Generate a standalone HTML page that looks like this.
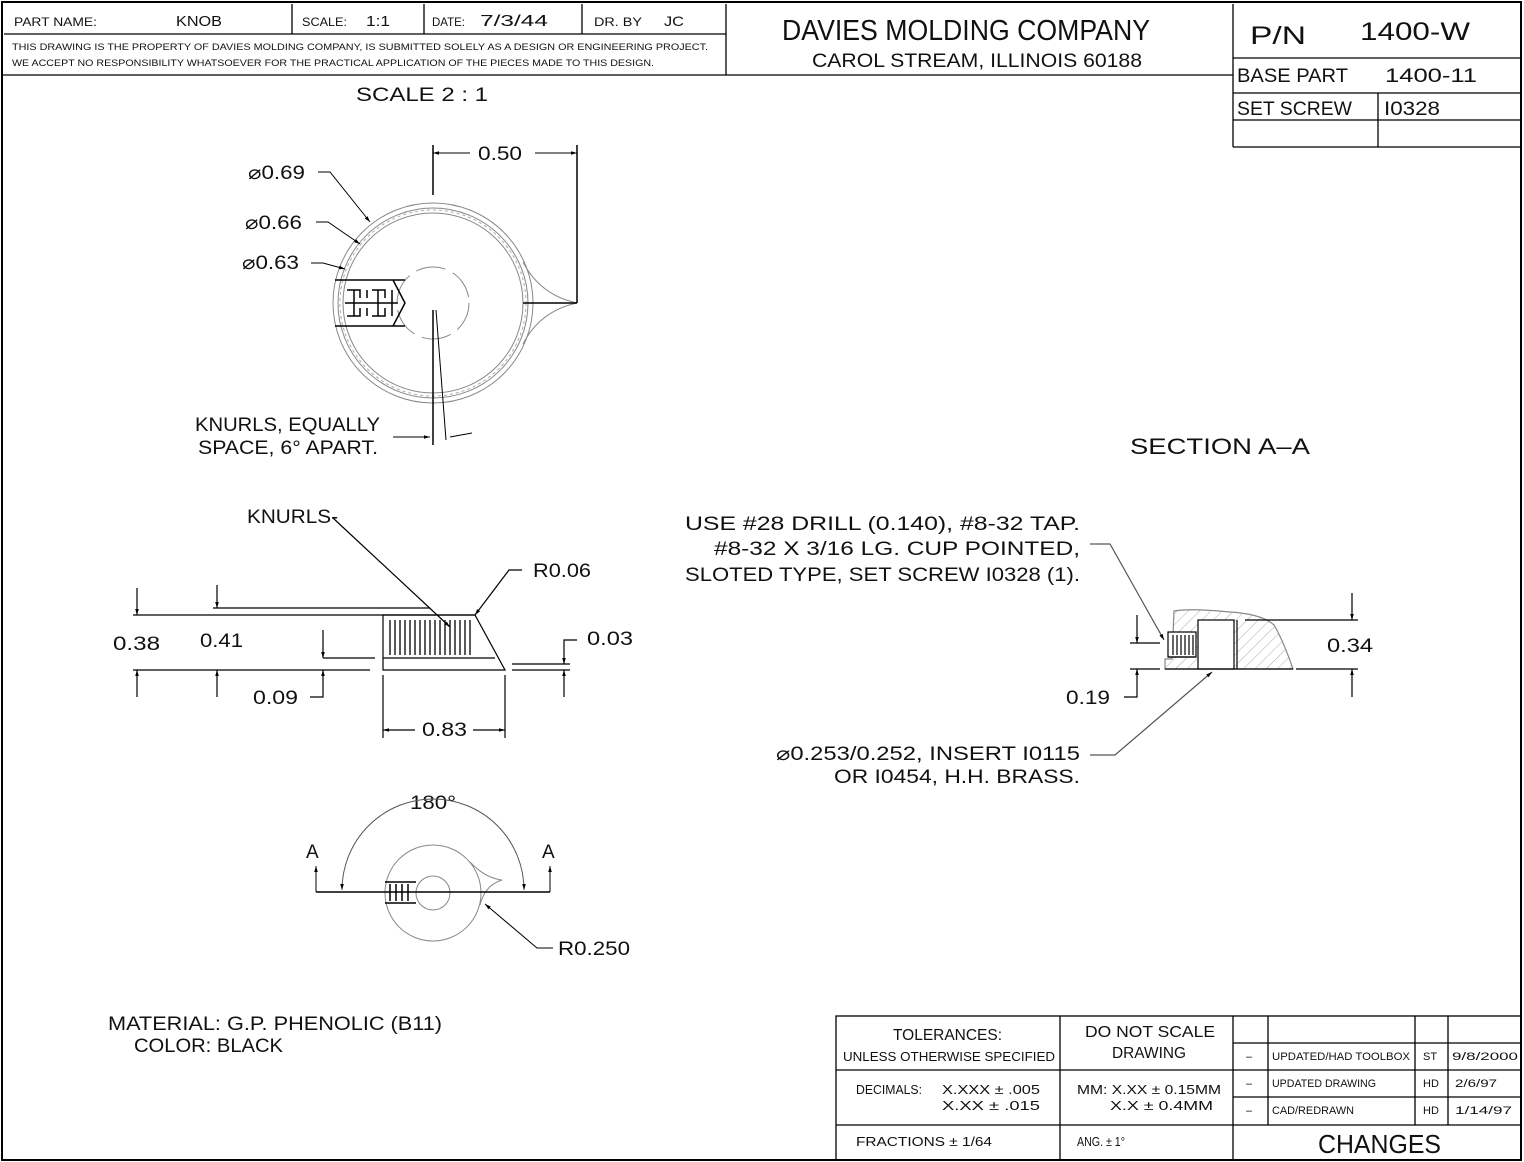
<!DOCTYPE html>
<html><head><meta charset="utf-8"><style>
html,body{margin:0;padding:0;background:#fff}
svg{display:block}
text{font-family:"Liberation Sans",sans-serif;fill:#111;font-weight:300}
</style></head><body>
<svg width="1524" height="1162" viewBox="0 0 1524 1162" xmlns="http://www.w3.org/2000/svg">
<defs>
<marker id="a" viewBox="0 0 10 10" refX="10" refY="5" markerWidth="10" markerHeight="6" orient="auto-start-reverse" markerUnits="userSpaceOnUse"><path d="M0,2 L10,5 L0,8z" fill="#000"/></marker>
<pattern id="h" width="8" height="8" patternUnits="userSpaceOnUse" patternTransform="rotate(45)"><line x1="0" y1="0" x2="0" y2="8" stroke="#999" stroke-width="0.8"/></pattern>
</defs>
<g fill="none" stroke="#000" stroke-width="2">
<rect x="2" y="2" width="1519" height="1158"/>
</g>
<g fill="none" stroke="#000" stroke-width="1.3">
<line x1="3" y1="75" x2="1233" y2="75"/>
<line x1="4" y1="34" x2="726" y2="34"/>
<line x1="292" y1="4" x2="292" y2="34"/>
<line x1="424" y1="4" x2="424" y2="34"/>
<line x1="582" y1="4" x2="582" y2="34"/>
<line x1="726" y1="4" x2="726" y2="75"/>
<line x1="1233" y1="4" x2="1233" y2="147"/>
<line x1="1233" y1="58" x2="1521" y2="58"/>
<line x1="1233" y1="93" x2="1521" y2="93"/>
<line x1="1233" y1="120" x2="1521" y2="120"/>
<line x1="1233" y1="147" x2="1521" y2="147"/>
<line x1="1378" y1="93" x2="1378" y2="147"/>
<rect x="836" y="1016" width="685" height="144"/>
<line x1="1060" y1="1016" x2="1060" y2="1160"/>
<line x1="1233" y1="1016" x2="1233" y2="1160"/>
<line x1="836" y1="1070" x2="1233" y2="1070"/>
<line x1="836" y1="1125" x2="1521" y2="1125"/>
<line x1="1233" y1="1043" x2="1521" y2="1043"/>
<line x1="1233" y1="1070" x2="1521" y2="1070"/>
<line x1="1233" y1="1097" x2="1521" y2="1097"/>
<line x1="1268" y1="1016" x2="1268" y2="1125"/>
<line x1="1415" y1="1016" x2="1415" y2="1125"/>
<line x1="1448" y1="1016" x2="1448" y2="1125"/>
</g>
<g font-size="12" lengthAdjust="spacingAndGlyphs">
<text x="14" y="26" textLength="83" lengthAdjust="spacingAndGlyphs">PART NAME:</text>
<text x="176" y="26" font-size="15" textLength="46" lengthAdjust="spacingAndGlyphs">KNOB</text>
<text x="302" y="26" textLength="45" lengthAdjust="spacingAndGlyphs">SCALE:</text><text x="366" y="26" font-size="15" textLength="24" lengthAdjust="spacingAndGlyphs">1:1</text>
<text x="432" y="26" textLength="33" lengthAdjust="spacingAndGlyphs">DATE:</text><text x="480" y="26" font-size="16" textLength="68" lengthAdjust="spacingAndGlyphs">7/3/44</text>
<text x="594" y="26" textLength="48" lengthAdjust="spacingAndGlyphs">DR. BY</text><text x="664" y="26" font-size="14" textLength="20" lengthAdjust="spacingAndGlyphs">JC</text>
<text x="12" y="50" font-size="9.5" textLength="696" lengthAdjust="spacingAndGlyphs">THIS DRAWING IS THE PROPERTY OF DAVIES MOLDING COMPANY, IS SUBMITTED SOLELY AS A DESIGN OR ENGINEERING PROJECT.</text>
<text x="12" y="66" font-size="9.5" textLength="642" lengthAdjust="spacingAndGlyphs">WE ACCEPT NO RESPONSIBILITY WHATSOEVER FOR THE PRACTICAL APPLICATION OF THE PIECES MADE TO THIS DESIGN.</text>
</g>
<text x="782" y="40" font-size="29" textLength="368" lengthAdjust="spacingAndGlyphs">DAVIES MOLDING COMPANY</text>
<text x="812" y="67" font-size="19" textLength="330" lengthAdjust="spacingAndGlyphs">CAROL STREAM, ILLINOIS 60188</text>
<text x="1250" y="44" font-size="25" textLength="56" lengthAdjust="spacingAndGlyphs">P/N</text>
<text x="1360" y="40" font-size="25" textLength="110" lengthAdjust="spacingAndGlyphs">1400-W</text>
<text x="1237" y="82" font-size="19" textLength="111" lengthAdjust="spacingAndGlyphs">BASE PART</text>
<text x="1385" y="82" font-size="19" textLength="92" lengthAdjust="spacingAndGlyphs">1400-11</text>
<text x="1237" y="115" font-size="19" textLength="115" lengthAdjust="spacingAndGlyphs">SET SCREW</text>
<text x="1384" y="115" font-size="19" textLength="56" lengthAdjust="spacingAndGlyphs">I0328</text>
<text x="893" y="1040" font-size="16" textLength="109" lengthAdjust="spacingAndGlyphs">TOLERANCES:</text>
<text x="843" y="1061" font-size="12.5" textLength="212" lengthAdjust="spacingAndGlyphs">UNLESS OTHERWISE SPECIFIED</text>
<text x="1085" y="1037" font-size="16" textLength="130" lengthAdjust="spacingAndGlyphs">DO NOT SCALE</text>
<text x="1112" y="1058" font-size="16" textLength="74" lengthAdjust="spacingAndGlyphs">DRAWING</text>
<text x="856" y="1094" font-size="12.5" textLength="66" lengthAdjust="spacingAndGlyphs">DECIMALS:</text>
<text x="942" y="1094" font-size="12.5" textLength="98" lengthAdjust="spacingAndGlyphs">X.XXX  ±  .005</text>
<text x="942" y="1110" font-size="12.5" textLength="98" lengthAdjust="spacingAndGlyphs">X.XX     ±  .015</text>
<text x="1077" y="1094" font-size="12.5" textLength="144" lengthAdjust="spacingAndGlyphs">MM: X.XX  ±  0.15MM</text>
<text x="1110" y="1110" font-size="12.5" textLength="103" lengthAdjust="spacingAndGlyphs">X.X    ±  0.4MM</text>
<text x="856" y="1146" font-size="12.5" textLength="136" lengthAdjust="spacingAndGlyphs">FRACTIONS  ±  1/64</text>
<text x="1077" y="1146" font-size="12.5" textLength="48" lengthAdjust="spacingAndGlyphs">ANG.  ±  1°</text>
<text x="1318" y="1153" font-size="26" textLength="123" lengthAdjust="spacingAndGlyphs">CHANGES</text>
<g font-size="11">
<text x="1246" y="1060">–</text><text x="1272" y="1060" textLength="138" lengthAdjust="spacingAndGlyphs">UPDATED/HAD TOOLBOX</text><text x="1423" y="1060">ST</text><text x="1452" y="1060" textLength="66" lengthAdjust="spacingAndGlyphs">9/8/2000</text>
<text x="1246" y="1087">–</text><text x="1272" y="1087" textLength="104" lengthAdjust="spacingAndGlyphs">UPDATED DRAWING</text><text x="1423" y="1087">HD</text><text x="1455" y="1087" textLength="42" lengthAdjust="spacingAndGlyphs">2/6/97</text>
<text x="1246" y="1114">–</text><text x="1272" y="1114" textLength="82" lengthAdjust="spacingAndGlyphs">CAD/REDRAWN</text><text x="1423" y="1114">HD</text><text x="1455" y="1114" textLength="57" lengthAdjust="spacingAndGlyphs">1/14/97</text>
</g>

<g font-size="19">
<text x="356" y="101" textLength="132" lengthAdjust="spacingAndGlyphs">SCALE  2  :  1</text>
<text x="478" y="160" textLength="44" lengthAdjust="spacingAndGlyphs">0.50</text>
<text x="248" y="179" textLength="57" lengthAdjust="spacingAndGlyphs">⌀0.69</text>
<text x="245" y="229" textLength="57" lengthAdjust="spacingAndGlyphs">⌀0.66</text>
<text x="242" y="269" textLength="57" lengthAdjust="spacingAndGlyphs">⌀0.63</text>
<text x="195" y="431" textLength="185" lengthAdjust="spacingAndGlyphs">KNURLS, EQUALLY</text>
<text x="198" y="454" textLength="180" lengthAdjust="spacingAndGlyphs">SPACE, 6° APART.</text>
<text x="1130" y="454" font-size="22" textLength="180" lengthAdjust="spacingAndGlyphs">SECTION  A–A</text>
<text x="247" y="523" textLength="91" lengthAdjust="spacingAndGlyphs">KNURLS-</text>
<text x="533" y="577" textLength="58" lengthAdjust="spacingAndGlyphs">R0.06</text>
<text x="113" y="650" textLength="47" lengthAdjust="spacingAndGlyphs">0.38</text>
<text x="200" y="647" textLength="43" lengthAdjust="spacingAndGlyphs">0.41</text>
<text x="587" y="645" textLength="46" lengthAdjust="spacingAndGlyphs">0.03</text>
<text x="253" y="704" textLength="45" lengthAdjust="spacingAndGlyphs">0.09</text>
<text x="422" y="736" textLength="45" lengthAdjust="spacingAndGlyphs">0.83</text>
<text x="685" y="530" textLength="395" lengthAdjust="spacingAndGlyphs">USE #28 DRILL (0.140), #8-32 TAP.</text>
<text x="714" y="555" textLength="366" lengthAdjust="spacingAndGlyphs">#8-32 X 3/16 LG. CUP POINTED,</text>
<text x="685" y="581" textLength="395" lengthAdjust="spacingAndGlyphs">SLOTED TYPE, SET SCREW I0328 (1).</text>
<text x="1327" y="652" textLength="46" lengthAdjust="spacingAndGlyphs">0.34</text>
<text x="1066" y="704" textLength="44" lengthAdjust="spacingAndGlyphs">0.19</text>
<text x="776" y="760" textLength="304" lengthAdjust="spacingAndGlyphs">⌀0.253/0.252, INSERT I0115</text>
<text x="834" y="783" textLength="246" lengthAdjust="spacingAndGlyphs">OR I0454, H.H. BRASS.</text>
<text x="410" y="809" textLength="46" lengthAdjust="spacingAndGlyphs">180°</text>
<text x="306" y="858">A</text>
<text x="542" y="858">A</text>
<text x="558" y="955" textLength="72" lengthAdjust="spacingAndGlyphs">R0.250</text>
<text x="108" y="1030" textLength="334" lengthAdjust="spacingAndGlyphs">MATERIAL: G.P. PHENOLIC (B11)</text>
<text x="134" y="1052" textLength="149" lengthAdjust="spacingAndGlyphs">COLOR: BLACK</text>
</g>

<g fill="none" stroke="#000" stroke-width="1">
<circle cx="433" cy="303" r="100" stroke="#888"/>
<circle cx="433" cy="303" r="95" stroke="#888"/>
<circle cx="433" cy="303" r="90" stroke="#888"/>
<circle cx="433" cy="303" r="93" stroke="#aaa" stroke-dasharray="3 3"/>
<circle cx="433" cy="303" r="36" stroke="#888" stroke-dasharray="30 8"/>
<path d="M523,262 Q540,295 577,303 Q540,311 523,344" stroke="#888"/>
<line x1="523" y1="303" x2="577" y2="303" stroke-width="1.5"/>
<line x1="433" y1="145" x2="433" y2="195" stroke-width="1.5"/>
<line x1="577" y1="145" x2="577" y2="303" stroke-width="1.5"/>
<line x1="433" y1="153" x2="470" y2="153" marker-start="url(#a)"/>
<line x1="535" y1="153" x2="577" y2="153" marker-end="url(#a)"/>
<line x1="433" y1="310" x2="433" y2="445" stroke-width="1.5"/>
<line x1="436" y1="310" x2="446" y2="440"/>
<line x1="393" y1="437" x2="430" y2="437" marker-end="url(#a)"/>
<line x1="450" y1="437" x2="472" y2="433"/>
<path d="M318,172 H330 L370,222" marker-end="url(#a)"/>
<path d="M316,222 H328 L360,244" marker-end="url(#a)"/>
<path d="M311,263 H323 L345,269" marker-end="url(#a)"/>
<g stroke-width="1.5">
<path d="M335,280 H405 M335,326 H405 M347,290 H360 V298 M347,316 H360 V308 M354,290 V316 M367,290 V298 M367,308 V316 M372,290 H385 V298 M372,316 H385 V308 M378,290 V316 M392,290 V316 M345,303 H398 M393,280 L405,303 L393,326"/>
</g>
</g>

<g fill="none" stroke="#000" stroke-width="1.2">
<line x1="133" y1="615" x2="475" y2="615"/>
<line x1="213" y1="608" x2="430" y2="608"/>
<line x1="133" y1="670" x2="370" y2="670"/>
<line x1="323" y1="658" x2="375" y2="658"/>
<path d="M383,670 V615 H475 L505,670 Z"/>
<line x1="383" y1="658" x2="495" y2="658"/>
<line x1="512" y1="664" x2="570" y2="664"/>
<line x1="512" y1="670" x2="570" y2="670"/>
<g stroke-width="1.3">
<path d="M390,620V655 M395,620V655 M400,620V655 M405,620V655 M410,620V655 M415,620V655 M420,620V655 M425,620V655 M430,620V655 M435,620V655 M440,620V655 M445,620V655 M450,620V655 M455,620V655 M460,620V655 M465,620V655 M470,620V655"/>
</g>
<line x1="137" y1="588" x2="137" y2="615" marker-end="url(#a)"/>
<line x1="137" y1="697" x2="137" y2="670" marker-end="url(#a)"/>
<line x1="217" y1="585" x2="217" y2="608" marker-end="url(#a)"/>
<line x1="217" y1="697" x2="217" y2="670" marker-end="url(#a)"/>
<line x1="323" y1="630" x2="323" y2="658" marker-end="url(#a)"/>
<path d="M310,697 H323 V670" marker-end="url(#a)"/>
<path d="M577,640 H564 V664" marker-end="url(#a)"/>
<line x1="564" y1="697" x2="564" y2="670" marker-end="url(#a)"/>
<line x1="383" y1="675" x2="383" y2="738"/>
<line x1="505" y1="675" x2="505" y2="738"/>
<line x1="383" y1="730" x2="415" y2="730" marker-start="url(#a)"/>
<line x1="473" y1="730" x2="505" y2="730" marker-end="url(#a)"/>
<path d="M522,570 H509 L475,615" marker-end="url(#a)"/>
<line x1="333" y1="518" x2="450" y2="627" marker-end="url(#a)"/>
</g>

<g fill="none" stroke="#000" stroke-width="1">
<circle cx="433" cy="893" r="48" stroke="#888"/>
<circle cx="433" cy="893" r="17" stroke="#888"/>
<path d="M470,862 Q485,878 502,880 Q485,885 480,905" stroke="#888"/>
<path d="M342,890 A91,91 0 0 1 524,890" stroke="#555" marker-start="url(#a)" marker-end="url(#a)"/>
<line x1="316" y1="892" x2="550" y2="892" stroke-width="1.5"/>
<line x1="316" y1="892" x2="316" y2="866" marker-end="url(#a)"/>
<line x1="550" y1="892" x2="550" y2="866" marker-end="url(#a)"/>
<path d="M385,882H416 M385,903H416 M390,884V901 M396,884V901 M402,884V901 M408,884V901" stroke-width="1.5"/>
<path d="M553,948 H537 L485,904" marker-end="url(#a)"/>
</g>

<g fill="none" stroke="#000" stroke-width="1.2">
<path d="M1174,611 Q1190,608 1230,612 Q1262,614 1274,625 Q1283,640 1293,669 H1165 V659 H1172 Z" fill="url(#h)" stroke="#888"/>
<rect x="1198" y="620" width="36" height="49" fill="#fff"/>
<line x1="1237" y1="620" x2="1237" y2="669"/>
<rect x="1168" y="632" width="28" height="25" fill="#fff"/>
<path d="M1173,635V655 M1177,635V655 M1181,635V655 M1185,635V655 M1189,635V655 M1193,635V655"/>
<line x1="1168" y1="657" x2="1196" y2="657"/>
<line x1="1165" y1="669" x2="1293" y2="669"/>
<line x1="1245" y1="620" x2="1358" y2="620"/>
<line x1="1296" y1="669" x2="1358" y2="669"/>
<line x1="1352" y1="593" x2="1352" y2="620" marker-end="url(#a)"/>
<line x1="1352" y1="697" x2="1352" y2="669" marker-end="url(#a)"/>
<line x1="1130" y1="643" x2="1160" y2="643"/>
<line x1="1130" y1="669" x2="1160" y2="669"/>
<line x1="1137" y1="615" x2="1137" y2="643" marker-end="url(#a)"/>
<path d="M1124,697 H1137 V669" marker-end="url(#a)"/>
<path d="M1090,544 H1110 L1164,640" stroke="#555" marker-end="url(#a)"/>
<path d="M1090,755 H1115 L1212,672" stroke="#555" marker-end="url(#a)"/>
</g>
</svg>
</body></html>
